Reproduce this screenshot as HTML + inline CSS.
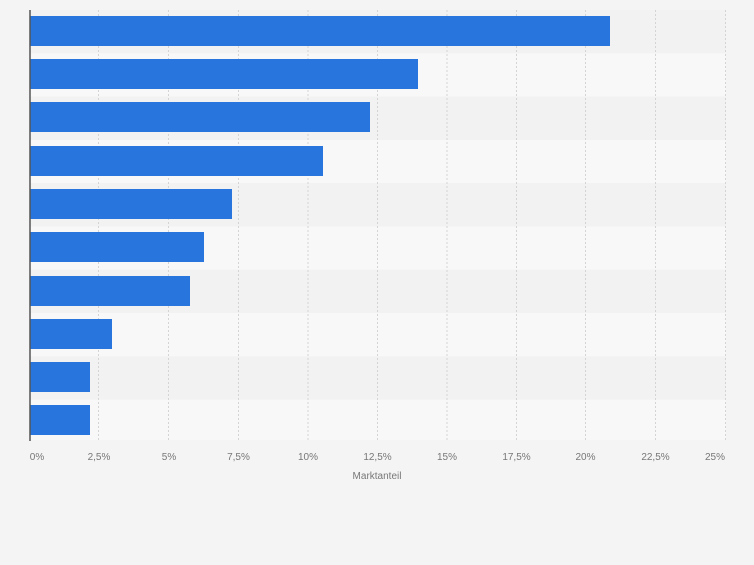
<!DOCTYPE html>
<html><head><style>
body{margin:0;background:#f4f4f4;width:754px;height:560px;overflow:hidden;font-family:"Liberation Sans",sans-serif}
</style></head><body>
<svg width="754" height="560" xmlns="http://www.w3.org/2000/svg">
<rect width="754" height="560" fill="#f4f4f4"/>
<g>
<rect x="30" y="10" width="696" height="43.3" fill="#f2f2f2"/>
<rect x="30" y="53.3" width="696" height="43.3" fill="#f8f8f8"/>
<rect x="30" y="96.6" width="696" height="43.3" fill="#f2f2f2"/>
<rect x="30" y="139.9" width="696" height="43.3" fill="#f8f8f8"/>
<rect x="30" y="183.2" width="696" height="43.3" fill="#f2f2f2"/>
<rect x="30" y="226.5" width="696" height="43.3" fill="#f8f8f8"/>
<rect x="30" y="269.8" width="696" height="43.3" fill="#f2f2f2"/>
<rect x="30" y="313.1" width="696" height="43.3" fill="#f8f8f8"/>
<rect x="30" y="356.4" width="696" height="43.3" fill="#f2f2f2"/>
<rect x="30" y="399.7" width="696" height="40.3" fill="#f8f8f8"/>
</g>
<g stroke="#d4d4d4" stroke-width="1" stroke-dasharray="2,2">
<line x1="98.5" y1="10" x2="98.5" y2="440"/>
<line x1="168.5" y1="10" x2="168.5" y2="440"/>
<line x1="238.5" y1="10" x2="238.5" y2="440"/>
<line x1="308" y1="10" x2="308" y2="440"/>
<line x1="377.5" y1="10" x2="377.5" y2="440"/>
<line x1="447" y1="10" x2="447" y2="440"/>
<line x1="516.5" y1="10" x2="516.5" y2="440"/>
<line x1="585.5" y1="10" x2="585.5" y2="440"/>
<line x1="655.5" y1="10" x2="655.5" y2="440"/>
<line x1="725.5" y1="10" x2="725.5" y2="440"/>
</g>
<g fill="#2876dd">
<rect x="30" y="16" width="580" height="30"/>
<rect x="30" y="59" width="388" height="30"/>
<rect x="30" y="102" width="340" height="30"/>
<rect x="30" y="146" width="293" height="30"/>
<rect x="30" y="189" width="202" height="30"/>
<rect x="30" y="232" width="174" height="30"/>
<rect x="30" y="276" width="160" height="30"/>
<rect x="30" y="319" width="82" height="30"/>
<rect x="30" y="362" width="60" height="30"/>
<rect x="30" y="405" width="60" height="30"/>
</g>
<line x1="30" y1="10" x2="30" y2="441" stroke="#555" stroke-width="1.5"/>
<g font-size="10" fill="#777" text-anchor="middle">
<text x="37" y="460">0%</text>
<text x="99" y="460">2,5%</text>
<text x="169" y="460">5%</text>
<text x="238.5" y="460">7,5%</text>
<text x="308" y="460">10%</text>
<text x="377.5" y="460">12,5%</text>
<text x="447" y="460">15%</text>
<text x="516.5" y="460">17,5%</text>
<text x="585.5" y="460">20%</text>
<text x="655.5" y="460">22,5%</text>
<text x="715" y="460">25%</text>
<text x="377" y="479">Marktanteil</text>
</g>
</svg>
</body></html>
